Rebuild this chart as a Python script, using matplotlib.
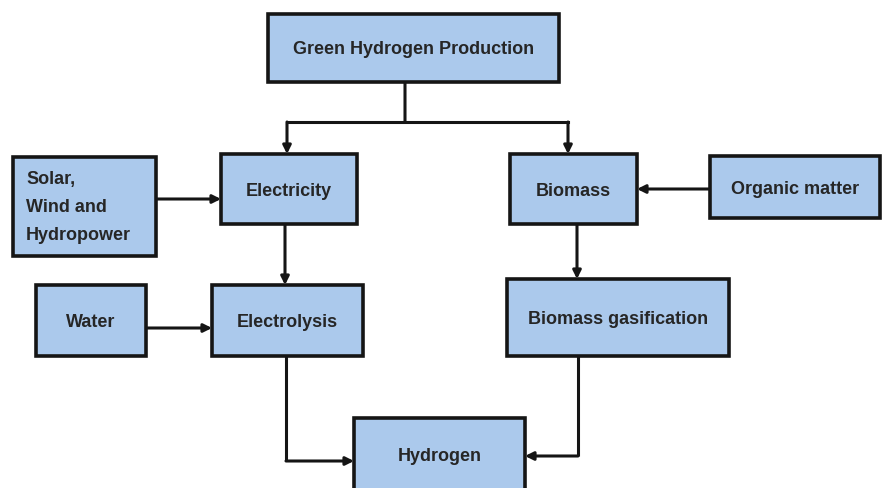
import matplotlib
matplotlib.use("Agg")
import matplotlib.pyplot as plt
from matplotlib.patches import Rectangle, FancyArrowPatch

# Node labels
labels = ["Green Hydrogen Production", "Solar,\nWind and\nHydropower", "Electricity",
          "Biomass", "Organic matter", "Water", "Electrolysis",
          "Biomass gasification", "Hydrogen"]
# Box layout (x0, y0, x1, y1) in pixel space, y downward
boxes = [(268, 15, 559, 83), (13, 158, 156, 257), (221, 155, 357, 225),
         (510, 155, 637, 225), (710, 157, 880, 219), (36, 286, 146, 357),
         (212, 286, 363, 357), (507, 280, 729, 357), (354, 419, 525, 492)]
text_align = ["center", "left", "center", "center", "center", "center", "center", "center", "center"]

FILL = "#abc9ec"
EDGE = "#151515"
TXT = "#262626"
FONT = "Liberation Sans"

fig = plt.figure(figsize=(8.82, 4.89), dpi=100)
ax = fig.add_axes([0, 0, 1, 1])
ax.set_xlim(0, 882)
ax.set_ylim(489, 0)
ax.axis("off")

for lab, (x0, y0, x1, y1), al in zip(labels, boxes, text_align):
    ax.add_patch(Rectangle((x0, y0), x1 - x0, y1 - y0, facecolor=FILL,
                           edgecolor=EDGE, linewidth=2.6, zorder=2))
    if al == "center":
        ax.text((x0 + x1) / 2, (y0 + y1) / 2 + 1, lab, ha="center", va="center",
                fontsize=13, fontweight="bold", color=TXT,
                family=FONT, zorder=3)
    else:
        ax.text(x0 + 13, (y0 + y1) / 2, lab, ha="left", va="center",
                fontsize=13, fontweight="bold", color=TXT, linespacing=1.85,
                family=FONT, zorder=3)

LW = 2.2

def poly(pts, arrow=True):
    xs = [p[0] for p in pts]
    ys = [p[1] for p in pts]
    if len(pts) > 2:
        ax.plot(xs[:-1], ys[:-1], color=EDGE, lw=LW, solid_joinstyle="miter",
                solid_capstyle="butt", zorder=1)
    a = FancyArrowPatch(pts[-2], pts[-1], arrowstyle="-|>" if arrow else "-",
                        mutation_scale=12, color=EDGE, lw=LW,
                        shrinkA=0, shrinkB=0, zorder=1)
    ax.add_patch(a)

# connectors
poly([(405, 83), (405, 123)], arrow=False)
ax.plot([287, 568], [123, 123], color=EDGE, lw=LW, solid_capstyle="projecting", zorder=1)
poly([(287, 123), (287, 155)])
poly([(568, 123), (568, 155)])
poly([(156, 200), (221, 200)])
poly([(710, 190), (637, 190)])
poly([(285, 225), (285, 286)])
poly([(577, 225), (577, 280)])
poly([(146, 329), (212, 329)])
poly([(286, 357), (286, 462), (354, 462)])
poly([(578, 357), (578, 457), (525, 457)])

fig.savefig("out.png", dpi=100, facecolor="white")
